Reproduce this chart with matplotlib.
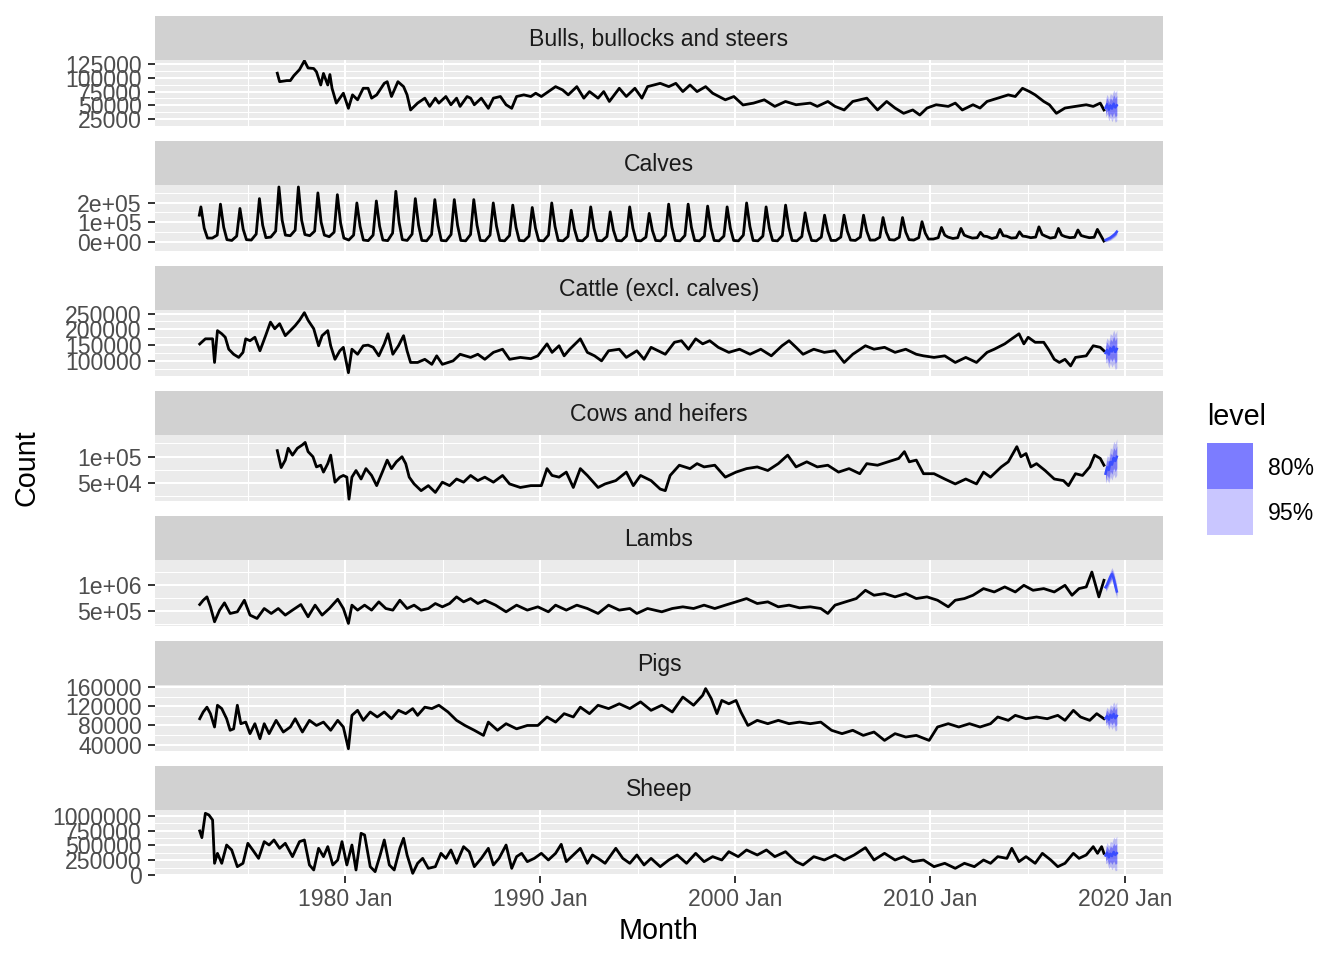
import matplotlib
matplotlib.use("Agg")
import matplotlib.pyplot as plt
from matplotlib.patches import Rectangle
from matplotlib.ticker import FixedLocator
import numpy as np

plt.rcParams['font.family'] = ['Liberation Sans', 'DejaVu Sans']

# ---------------- data (values in thousands) ----------------
facets = ["Bulls, bullocks and steers", "Calves", "Cattle (excl. calves)",
          "Cows and heifers", "Lambs", "Pigs", "Sheep"]

bulls_t = [1976.50,1976.62,1976.99,1977.17,1977.35,1977.64,1977.89,1978.08,1978.37,1978.51,
           1978.73,1978.87,1979.09,1979.20,1979.31,1979.53,1979.71,1979.89,1980.15,1980.36,
           1980.62,1980.91,1981.16,1981.34,1981.60,1981.99,1982.14,1982.36,1982.69,1982.98,
           1983.16,1983.34,1983.70,1984.07,1984.32,1984.61,1984.79,1985.15,1985.41,1985.70,
           1985.88,1986.24,1986.42,1986.61,1986.97,1987.33,1987.59,1987.95,1988.24,1988.53,
           1988.78,1989.15,1989.51,1989.76,1990.05,1990.78,1991.14,1991.43,1991.87,1992.23,
           1992.52,1992.96,1993.25,1993.54,1994.05,1994.41,1994.85,1995.21,1995.50,1996.15,
           1996.59,1996.95,1997.31,1997.68,1998.04,1998.48,1998.84,1999.49,1999.93,2000.40,
           2000.94,2001.49,2002.03,2002.58,2003.12,2003.85,2004.21,2004.75,2005.12,2005.59,
           2006.03,2006.75,2007.30,2007.77,2008.20,2008.64,2009.11,2009.47,2009.84,2010.31,
           2010.93,2011.29,2011.65,2012.20,2012.56,2012.92,2013.47,2014.01,2014.37,2014.74,
           2015.10,2015.39,2015.83,2016.12,2016.48,2016.92,2017.46,2018.01,2018.37,2018.73,
           2018.92]
bulls_v = [108.5,93,95,95,104,115,131,118,117,111,
           87,108,87,106,81,54,63,72,44.5,69,
           60,81,81,63,69,90,93,66,93,84,
           69,41.5,54,63,48,63,54,66,51,63,
           48,66,63,51,63,44.5,63,66,51,44.5,
           66,69,66,72,66,84,78,69,84,63,
           75,63,75,57,81,66,81,63,84,90,
           84,90,75,87,75,84,72,60,66,50.6,
           54,60,48,57,51,54,48,57,48,41.5,
           57,63,41.5,57,45,35.4,41.5,32.3,45,51,
           48,54,41.5,51,45,57,63,69,66,81,
           75,69,57,51,35.4,45,48,51,48,54,
           41.5]

calves_start_t = [1972.50, 1972.58, 1972.75, 1972.92]
calves_start_v = [136, 178, 70, 20]
calves_years = list(range(1973, 2019))
calves_months = [3, 6, 8, 10, 12]
calves_mar = [20,8,10,25,32,32,27,10,7,7, 8,6,6,6,6,6,6,6,6,6,
              6,6,6,6,6,6,6,6,6,6, 6,6,8,8,10,10,10,15,18,20, 18,20,22,20,22,22]
calves_jun = [35,30,40,55,60,55,50,35,35,45, 40,38,38,38,35,33,30,35,28,30,
              28,30,25,33,33,30,30,35,30,33, 28,25,25,25,24,24,22,22,22,22, 24,22,25,24,24,24]
calves_aug = [192,170,220,279,279,249,240,198,208,257, 220,215,215,215,198,187,175,198,161,178,
              153,178,145,192,192,182,178,198,178,187, 148,136,136,136,124,124,103,74,69,49,
              64,52,77,69,61,64]
calves_oct = [75,65,85,110,110,100,95,80,80,100, 85,85,85,85,80,75,70,80,65,70,
              60,70,58,75,75,72,70,80,70,75, 60,55,55,55,50,50,45,35,35,30, 32,30,38,35,33,35]
calves_dec = [12,12,22,35,38,35,20,10,10,12, 8,8,8,8,8,8,8,8,8,8,
              8,8,8,8,8,8,8,8,8,8, 8,8,10,10,12,12,15,25,28,28, 30,28,30,28,28,5]

cattle_t = [1972.52,1972.81,1973.18,1973.28,1973.43,1973.65,1973.83,1974.01,1974.26,1974.52,
            1974.74,1974.88,1975.10,1975.35,1975.61,1975.90,1976.15,1976.37,1976.62,1976.91,
            1977.17,1977.42,1977.64,1977.89,1978.08,1978.37,1978.62,1978.80,1979.09,1979.24,
            1979.46,1979.71,1979.89,1980.15,1980.33,1980.62,1980.91,1981.16,1981.42,1981.71,
            1981.99,1982.18,1982.43,1982.72,1982.98,1983.16,1983.34,1983.70,1984.07,1984.43,
            1984.68,1984.97,1985.52,1985.88,1986.42,1986.79,1987.15,1987.59,1988.06,1988.42,
            1988.97,1989.51,1989.87,1990.34,1990.60,1990.96,1991.22,1991.51,1992.05,1992.41,
            1992.78,1993.14,1993.50,1994.05,1994.41,1994.95,1995.32,1995.68,1996.04,1996.41,
            1996.88,1997.24,1997.60,1997.97,1998.33,1998.69,1999.13,1999.67,2000.22,2000.76,
            2001.31,2001.85,2002.40,2002.76,2003.12,2003.48,2004.03,2004.57,2005.12,2005.59,
            2006.03,2006.68,2007.12,2007.66,2008.20,2008.75,2009.29,2009.66,2010.20,2010.75,
            2011.29,2011.83,2012.38,2012.92,2013.29,2013.83,2014.19,2014.56,2014.81,2015.03,
            2015.39,2015.83,2016.12,2016.37,2016.63,2016.92,2017.21,2017.46,2018.01,2018.37,
            2018.73,2018.92]
cattle_v = [153.6,170,170,95,196,186,175,137,121,111,
            127,170,164,175,132,180,223,202,218,180,
            196,212,229,253,229,202,148,180,196,148,
            105,132,143,62.5,137,121,148,150,143,116,
            153.6,186,121,148,180,132,95,95,105,89,
            116,89,100,121,111,121,105,127,137,105,
            111,107,116,154,127,148,116,137,170,127,
            116,100,132,137,111,132,105,143,132,121,
            159,164,137,170,154,164,143,127,137,121,
            137,116,148,164,143,121,137,127,132,95,
            121,148,137,143,127,137,121,116,111,116,
            95,111,95,127,137,154,170,186,154,175,
            159,159,132,105,95,105,84,111,116,148,
            143,132]

cows_t = [1976.50,1976.70,1976.91,1977.06,1977.28,1977.53,1977.79,1977.93,1978.08,1978.33,
          1978.51,1978.73,1978.87,1979.09,1979.24,1979.46,1979.71,1979.89,1980.07,1980.18,
          1980.33,1980.54,1980.80,1981.05,1981.34,1981.60,1981.89,1982.14,1982.36,1982.61,
          1982.90,1983.09,1983.27,1983.52,1983.88,1984.25,1984.61,1984.97,1985.34,1985.70,
          1986.06,1986.42,1986.79,1987.15,1987.59,1988.06,1988.42,1988.97,1989.51,1990.05,
          1990.34,1990.60,1990.96,1991.33,1991.69,1992.05,1992.41,1992.96,1993.32,1993.87,
          1994.41,1994.77,1995.14,1995.68,1996.15,1996.41,1996.66,1997.13,1997.68,1998.04,
          1998.40,1998.95,1999.49,2000.04,2000.58,2001.13,2001.67,2002.21,2002.69,2003.12,
          2003.67,2004.21,2004.75,2005.30,2005.84,2006.39,2006.75,2007.30,2007.84,2008.39,
          2008.68,2008.93,2009.29,2009.66,2010.20,2010.75,2011.29,2011.83,2012.38,2012.74,
          2013.10,2013.65,2014.01,2014.45,2014.66,2014.92,2015.17,2015.46,2015.90,2016.37,
          2016.84,2017.10,2017.46,2017.82,2018.19,2018.44,2018.73,2018.92]
cows_v = [111.5,79.5,93.6,116,103,116,122.4,127,109.6,100,
          80.8,84,71,87,103,52,61.5,64.7,61.5,20,
          61.5,74,58,77.6,64.7,45.5,71,93.6,77.6,90.4,
          100,87,61.5,48.7,36,45.5,32.7,52,45.5,58,
          52,64.7,55,61.5,52,64.7,48.7,42,45.5,45.5,
          77.6,64.7,61.5,71,42,77.6,64.7,42,48.7,55,
          71,45.5,64.7,55,39,36,64.7,84,77.6,87,
          80.8,84,61.5,71,77.6,80.8,74,87,103,80.8,
          90.4,80.8,84,71,77.6,68,87,84,90.4,96.8,
          109.6,90.4,93.6,68,68,58,48.7,58,48.7,71,
          61.5,80.8,90.4,119,100,106,80.8,87,74,58,
          55,45.5,68,64.7,80.8,103,96.8,84]

lambs_t = [1972.52,1972.70,1972.89,1973.07,1973.28,1973.54,1973.79,1974.08,1974.45,1974.81,
           1975.10,1975.46,1975.83,1976.19,1976.55,1976.91,1977.28,1977.71,1978.08,1978.44,
           1978.80,1979.17,1979.60,1979.89,1980.15,1980.33,1980.62,1980.98,1981.34,1981.71,
           1982.07,1982.43,1982.79,1983.16,1983.52,1983.88,1984.25,1984.61,1984.97,1985.34,
           1985.70,1986.06,1986.42,1986.79,1987.15,1987.70,1988.24,1988.78,1989.33,1989.87,
           1990.41,1990.78,1991.33,1991.87,1992.41,1992.96,1993.50,1994.05,1994.59,1994.95,
           1995.50,1996.23,1996.77,1997.31,1997.86,1998.40,1998.95,1999.49,2000.04,2000.58,
           2001.13,2001.67,2002.21,2002.76,2003.30,2003.85,2004.39,2004.75,2005.12,2005.66,
           2006.21,2006.68,2007.12,2007.66,2008.20,2008.75,2009.29,2009.84,2010.38,2010.93,
           2011.29,2011.76,2012.20,2012.74,2013.29,2013.83,2014.37,2014.81,2015.28,2015.83,
           2016.37,2016.92,2017.28,2017.64,2018.01,2018.30,2018.66,2018.92]
lambs_v = [620,702,766,576,291,513,652,449,481,702,
           418,354,544,449,544,418,513,620,386,608,
           418,544,721,544,259,608,513,608,513,671,
           544,513,702,544,608,513,544,639,576,639,
           766,671,734,639,702,608,481,608,513,576,
           481,608,513,608,544,449,608,513,544,449,
           544,481,544,576,544,608,544,608,671,734,
           639,671,576,608,557,576,544,449,608,671,
           734,892,797,829,766,829,734,766,702,576,
           702,734,797,924,860,956,860,987,892,924,
           860,987,797,924,956,1240,766,1082]

pigs_t = [1972.52,1972.70,1972.89,1973.07,1973.28,1973.43,1973.65,1973.90,1974.08,1974.26,
          1974.45,1974.63,1974.88,1975.10,1975.35,1975.61,1975.83,1976.08,1976.44,1976.81,
          1977.17,1977.42,1977.79,1978.15,1978.51,1978.87,1979.24,1979.60,1979.89,1980.15,
          1980.33,1980.62,1980.91,1981.27,1981.63,1981.99,1982.36,1982.72,1983.09,1983.45,
          1983.70,1984.07,1984.43,1984.79,1985.26,1985.70,1986.13,1986.61,1987.08,1987.33,
          1987.80,1988.24,1988.78,1989.33,1989.87,1990.34,1990.78,1991.22,1991.69,1992.05,
          1992.52,1992.96,1993.50,1994.05,1994.59,1995.14,1995.68,1996.23,1996.77,1997.31,
          1997.86,1998.33,1998.48,1998.77,1999.06,1999.31,1999.67,2000.04,2000.29,2000.65,
          2001.13,2001.67,2002.21,2002.76,2003.30,2003.85,2004.39,2004.94,2005.48,2006.03,
          2006.57,2007.12,2007.66,2008.20,2008.75,2009.29,2009.95,2010.38,2010.93,2011.47,
          2012.02,2012.56,2013.10,2013.47,2014.01,2014.37,2014.92,2015.46,2016.01,2016.55,
          2016.92,2017.35,2017.72,2018.19,2018.55,2018.92]
pigs_v = [94,108,118,104.5,76.8,122,115,94,70,73,
          122,83.7,87,63,83.7,52.5,83.7,63,90.6,66.4,
          76.8,94,66.4,90.6,80,87,70,90.6,76.8,31.7,
          101,111.4,90.6,108,97.6,108,94,111.4,104.5,115,
          101,118,115,122,108,90.6,80,70,59.4,87,
          70,83.7,73,80,80,97.6,87,104.5,97.6,118,
          104.5,122,115,125,115,129,111.4,122,108,139,
          122,142.7,156.5,135.7,104.5,132,125,132,108,80,
          90.6,83.7,90.6,83.7,87,83.7,87,70,63,70,
          59.4,66.4,49,63,56,59.4,49,76.8,83.7,76.8,
          83.7,76.8,83.7,97.6,90.6,101,94,97.6,94,101,
          90.6,111.4,97.6,90.6,104.5,94]

sheep_t = [1972.52,1972.63,1972.81,1972.99,1973.18,1973.28,1973.43,1973.65,1973.90,1974.16,
           1974.45,1974.74,1974.99,1975.24,1975.54,1975.83,1976.08,1976.33,1976.62,1976.91,
           1977.28,1977.64,1977.89,1978.15,1978.37,1978.62,1978.87,1979.09,1979.35,1979.60,
           1979.82,1980.07,1980.33,1980.54,1980.80,1980.98,1981.27,1981.52,1981.78,1981.99,
           1982.25,1982.50,1982.79,1982.98,1983.16,1983.45,1983.70,1983.96,1984.25,1984.61,
           1984.90,1985.15,1985.41,1985.70,1986.06,1986.35,1986.61,1986.97,1987.33,1987.59,
           1987.88,1988.24,1988.53,1988.78,1989.04,1989.33,1989.69,1990.05,1990.41,1990.78,
           1991.07,1991.33,1991.69,1992.05,1992.41,1992.67,1992.96,1993.32,1993.87,1994.23,
           1994.59,1994.95,1995.32,1995.68,1996.15,1996.59,1997.02,1997.50,1997.97,1998.40,
           1998.84,1999.31,1999.67,2000.15,2000.58,2001.13,2001.60,2002.03,2002.58,2003.12,
           2003.48,2004.03,2004.57,2005.12,2005.59,2006.10,2006.68,2007.12,2007.66,2008.20,
           2008.64,2009.11,2009.66,2010.20,2010.75,2011.29,2011.76,2012.27,2012.74,2013.10,
           2013.47,2013.94,2014.19,2014.56,2014.92,2015.39,2015.76,2016.19,2016.55,2016.92,
           2017.35,2017.64,2018.01,2018.37,2018.59,2018.80,2018.92]
sheep_v = [746,633,1045,1017,932,198,367,198,508,424,
           141,198,537,424,282,565,508,593,452,537,
           311,565,593,170,85,452,311,480,170,254,
           565,170,508,85,706,678,141,56.5,339,593,
           170,85,452,622,339,28,198,282,113,141,
           367,282,424,198,480,395,141,282,452,170,
           282,508,113,311,367,226,282,367,254,367,
           520,226,339,452,198,339,282,198,452,282,
           198,339,170,282,141,254,339,198,367,226,
           311,254,395,311,424,339,424,311,395,226,
           170,311,254,339,254,339,463,254,367,254,
           311,226,254,141,198,113,198,141,254,198,
           311,282,452,226,311,198,367,254,141,198,
           367,282,339,480,367,480,367]

# forecasts (Jan-Aug 2019): point forecast and half-widths of 80% / 95% intervals
fc_t = [2019.00, 2019.08, 2019.17, 2019.25, 2019.33, 2019.42, 2019.50, 2019.58]
fc_mean = {
    "Bulls, bullocks and steers": [45, 52, 42, 50, 44, 53, 46, 50],
    "Calves": [10, 14, 18, 22, 28, 35, 42, 52],
    "Cattle (excl. calves)": [125, 135, 120, 140, 130, 145, 128, 138],
    "Cows and heifers": [68, 80, 75, 90, 85, 98, 92, 100],
    "Lambs": [950, 1000, 1080, 1150, 1200, 1120, 980, 870],
    "Pigs": [95, 100, 92, 102, 96, 104, 95, 100],
    "Sheep": [330, 380, 300, 360, 320, 390, 340, 370],
}
fc_hw80 = {
    "Bulls, bullocks and steers": [10, 12, 13, 14, 15, 16, 17, 18],
    "Calves": [6, 7, 7, 8, 8, 9, 9, 10],
    "Cattle (excl. calves)": [20, 25, 28, 30, 32, 34, 36, 38],
    "Cows and heifers": [12, 14, 16, 17, 18, 19, 20, 21],
    "Lambs": [50, 60, 70, 75, 80, 85, 85, 90],
    "Pigs": [10, 12, 13, 14, 15, 16, 17, 18],
    "Sheep": [90, 110, 120, 130, 140, 150, 160, 170],
}
fc_hw95 = {
    "Bulls, bullocks and steers": [16, 18, 20, 22, 24, 25, 27, 28],
    "Calves": [10, 11, 12, 13, 13, 14, 15, 16],
    "Cattle (excl. calves)": [32, 38, 43, 47, 50, 53, 56, 60],
    "Cows and heifers": [18, 22, 25, 27, 29, 31, 32, 34],
    "Lambs": [80, 95, 105, 115, 125, 130, 135, 140],
    "Pigs": [15, 18, 20, 22, 24, 25, 27, 29],
    "Sheep": [140, 170, 190, 210, 230, 250, 270, 290],
}

# y-axis breaks / labels per facet, and y limits (raw units)
ytick_vals = {
    "Bulls, bullocks and steers": [25000, 50000, 75000, 100000, 125000],
    "Calves": [0, 100000, 200000],
    "Cattle (excl. calves)": [100000, 150000, 200000, 250000],
    "Cows and heifers": [50000, 100000],
    "Lambs": [500000, 1000000],
    "Pigs": [40000, 80000, 120000, 160000],
    "Sheep": [0, 250000, 500000, 750000, 1000000],
}
ytick_labels = {
    "Bulls, bullocks and steers": ["25000", "50000", "75000", "100000", "125000"],
    "Calves": ["0e+00", "1e+05", "2e+05"],
    "Cattle (excl. calves)": ["100000", "150000", "200000", "250000"],
    "Cows and heifers": ["5e+04", "1e+05"],
    "Lambs": ["5e+05", "1e+06"],
    "Pigs": ["40000", "80000", "120000", "160000"],
    "Sheep": ["0", "250000", "500000", "750000", "1000000"],
}
ylims = {
    "Bulls, bullocks and steers": (12300, 132500),
    "Calves": (-45500, 289000),
    "Cattle (excl. calves)": (52000, 261500),
    "Cows and heifers": (16500, 141000),
    "Lambs": (210000, 1470000),
    "Pigs": (27000, 164000),
    "Sheep": (-17000, 1101000),
}
xtick_years = [1980, 1990, 2000, 2010, 2020]
xtick_labels = ["1980 Jan", "1990 Jan", "2000 Jan", "2010 Jan", "2020 Jan"]
xminor_years = [1975, 1985, 1995, 2005, 2015]
xlim = (1970.225, 2021.95)

# ---------------- assemble series ----------------
calves_t = list(calves_start_t)
calves_v = list(calves_start_v)
for i, y in enumerate(calves_years):
    for m, arr in zip(calves_months, [calves_mar, calves_jun, calves_aug, calves_oct, calves_dec]):
        calves_t.append(y + (m - 1) / 12)
        calves_v.append(arr[i])

series = {
    "Bulls, bullocks and steers": (bulls_t, bulls_v),
    "Calves": (calves_t, calves_v),
    "Cattle (excl. calves)": (cattle_t, cattle_v),
    "Cows and heifers": (cows_t, cows_v),
    "Lambs": (lambs_t, lambs_v),
    "Pigs": (pigs_t, pigs_v),
    "Sheep": (sheep_t, sheep_v),
}

# ---------------- figure ----------------
W, H = 1344, 960
fig = plt.figure(figsize=(W / 100, H / 100), dpi=100)

def box(l, t, r, b):
    return [l / W, 1 - b / H, (r - l) / W, (b - t) / H]

P_LEFT, P_RIGHT = 155, 1163
P_TOP0, P_H, STRIP_H, STEP = 60, 66, 44, 125

TICK_FS = 16.6
TITLE_FS = 20.7
BLUE = "#0000FF"

for i, name in enumerate(facets):
    top = P_TOP0 + STEP * i
    ax = fig.add_axes(box(P_LEFT, top, P_RIGHT, top + P_H))
    ax.set_facecolor("#EBEBEB")
    for s in ax.spines.values():
        s.set_visible(False)

    t, v = series[name]
    v = np.array(v, dtype=float) * 1000
    ax.plot(t, v, color="black", lw=2.0, solid_joinstyle="round", zorder=3)

    m = np.array(fc_mean[name], float) * 1000
    h80 = np.array(fc_hw80[name], float) * 1000
    h95 = np.array(fc_hw95[name], float) * 1000
    ax.fill_between(fc_t, m - h95, m + h95, color=BLUE, alpha=0.21, lw=0, zorder=2)
    ax.fill_between(fc_t, m - h80, m + h80, color=BLUE, alpha=0.35, lw=0, zorder=2)
    ax.plot(fc_t, m, color="#3a4dff", lw=1.8, zorder=3)

    ax.set_xlim(*xlim)
    ax.set_ylim(*ylims[name])

    yt = ytick_vals[name]
    ax.set_yticks(yt)
    ax.set_yticklabels(ytick_labels[name])
    step = yt[1] - yt[0]
    lo, hi = ylims[name]
    minors = [yt[0] - step / 2 + k * step for k in range(len(yt) + 1)]
    minors = [mm for mm in minors if lo < mm < hi]
    ax.yaxis.set_minor_locator(FixedLocator(minors))

    ax.set_xticks(xtick_years)
    ax.xaxis.set_minor_locator(FixedLocator(xminor_years))
    if i == len(facets) - 1:
        ax.set_xticklabels(xtick_labels)
        ax.tick_params(axis="x", which="major", length=5, width=1.4, color="#333333",
                       labelsize=TICK_FS, labelcolor="#4D4D4D", pad=3.5)
    else:
        ax.set_xticklabels([])
        ax.tick_params(axis="x", which="major", length=0)
    ax.tick_params(axis="y", which="major", length=5, width=1.4, color="#333333",
                   labelsize=TICK_FS, labelcolor="#4D4D4D", pad=4.5)
    ax.tick_params(which="minor", length=0)

    ax.grid(which="major", color="white", lw=1.45, zorder=0)
    ax.grid(which="minor", color="white", lw=0.75, zorder=0)
    ax.set_axisbelow(True)

    # facet strip
    sax = fig.add_axes(box(P_LEFT, top - STRIP_H, P_RIGHT, top))
    sax.set_facecolor("#D1D1D1")
    sax.set_xticks([]); sax.set_yticks([])
    for s in sax.spines.values():
        s.set_visible(False)
    sax.text(0.5, 0.47, name, ha="center", va="center", fontsize=TICK_FS,
             color="#1A1A1A", transform=sax.transAxes)

# axis titles
fig.text(659 / W, 1 - 931 / H, "Month", ha="center", va="center", fontsize=TITLE_FS, color="black")
fig.text(27 / W, 1 - 468 / H, "Count", ha="center", va="center", rotation=90,
         fontsize=TITLE_FS, color="black")

# legend
legend_levels = ["80%", "95%"]
legend_colors = ["#7C7CFF", "#C9C6FF"]
fig.text(1207 / W, 1 - 417 / H, "level", ha="left", va="center", fontsize=TITLE_FS, color="black")
for k, (lab, col) in enumerate(zip(legend_levels, legend_colors)):
    ktop = 443 + 46 * k
    fig.add_artist(Rectangle((1207 / W, 1 - (ktop + 46) / H), 46 / W, 46 / H,
                             transform=fig.transFigure, facecolor=col, edgecolor="none"))
    fig.text(1268 / W, 1 - (ktop + 25) / H, lab, ha="left", va="center",
             fontsize=TICK_FS, color="black")

fig.savefig("out.png", dpi=100)
